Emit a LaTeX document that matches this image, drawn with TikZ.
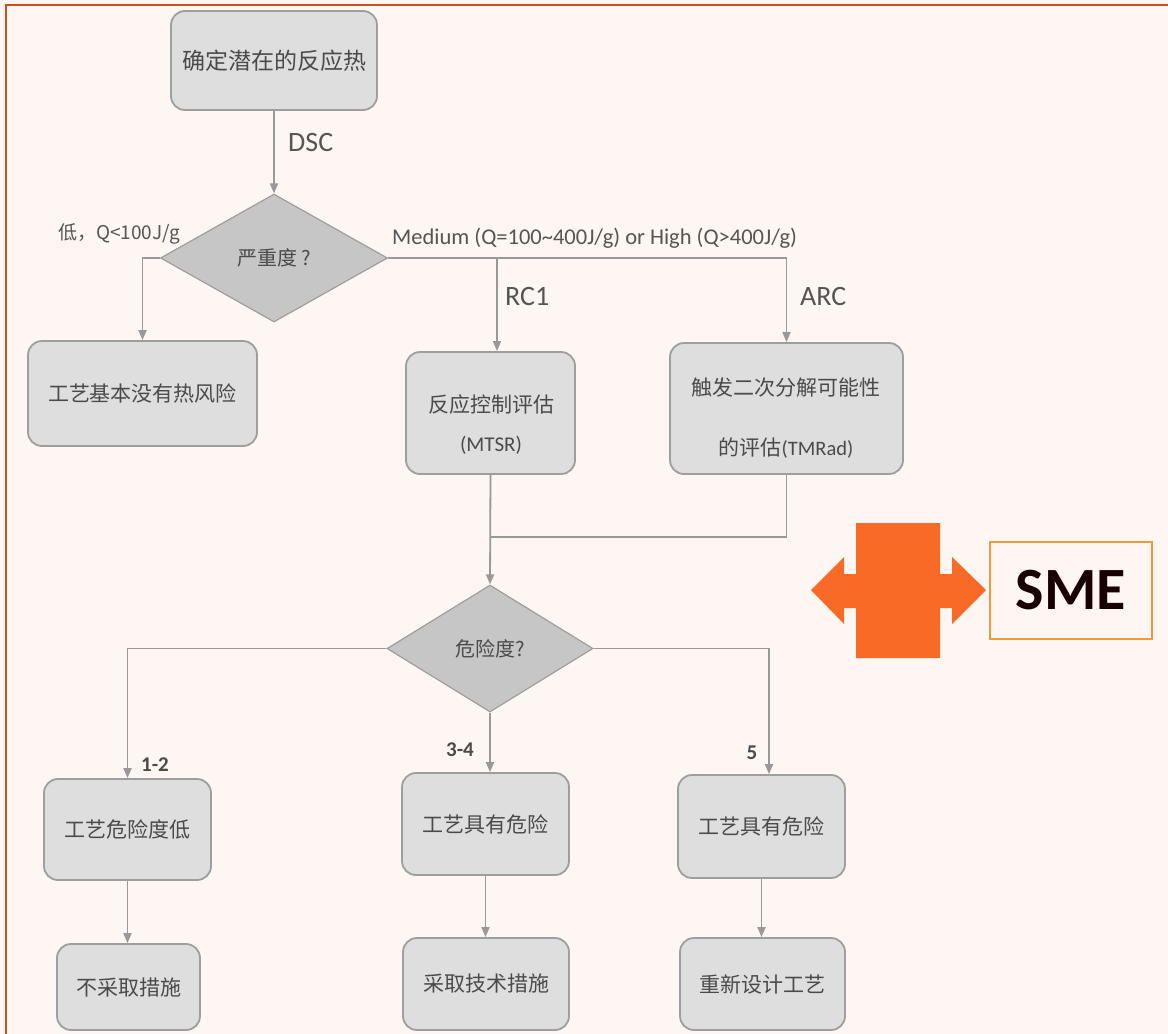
\documentclass[tikz,border=0pt]{standalone}
\usepackage{fontspec}
\setmainfont{Carlito}
\newfontfamily\cjk{Noto Sans CJK SC}
\usetikzlibrary{shapes.geometric,arrows.meta,calc}
\definecolor{bg}{HTML}{FDF6F3}
\definecolor{frame}{HTML}{C4531F}
\definecolor{boxfill}{HTML}{DEDEDE}
\definecolor{boxline}{HTML}{9E9E9E}
\definecolor{dfill}{HTML}{C6C6C6}
\definecolor{lc}{HTML}{999999}
\definecolor{txt}{HTML}{4A4A4A}
\definecolor{lbl}{HTML}{555555}
\definecolor{sme}{HTML}{F96A26}
\definecolor{smeline}{HTML}{EE9A3A}
\begin{document}
\begin{tikzpicture}[x=1pt,y=-1pt,
  box/.style={draw=boxline, fill=boxfill, rounded corners=14pt, line width=1.8pt, inner sep=0pt},
  cjkt/.style={text=txt, font=\cjk\fontsize{21}{26}\selectfont, align=center, inner sep=0pt},
  decision/.style={diamond, draw=boxline, fill=dfill, line width=1.2pt, inner sep=0pt, text=txt, font=\cjk\fontsize{20}{24}\selectfont},
  conn/.style={draw=lc, line width=1.8pt, -{Triangle[length=10pt,width=8pt]}},
  plain/.style={draw=lc, line width=1.8pt},
  lab/.style={text=lbl, inner sep=0pt},
  num/.style={text=txt, inner sep=0pt, font=\bfseries\fontsize{21}{24}\selectfont},
]
\useasboundingbox (0,0) rectangle (1168,1034);
\fill[bg] (0,0) rectangle (1168,1034);
\draw[frame, line width=2.8pt] (6,1034) -- (6,5) -- (1168,5);

% nodes
\node[box, cjkt, font=\cjk\fontsize{23}{26}\selectfont, minimum width=206pt, minimum height=99pt] (n1) at (274,60.5) {确定潜在的反应热};
\node[decision, minimum width=227pt, minimum height=128pt] (d1) at (274,258) {严重度 ?};
\node[box, cjkt, minimum width=229pt, minimum height=105pt] (n2) at (142.5,393.5) {工艺基本没有热风险};
\node[box, minimum width=169pt, minimum height=122pt] (n3) at (490.5,413) {};
\node[cjkt] (n3t) at (491,425) {反应控制评估\\[13pt]{\fontspec{Carlito}\fontsize{21}{24}\selectfont (MTSR)}};
\node[box, minimum width=233pt, minimum height=131pt] (n4) at (786.5,408.5) {};
\node[cjkt, font=\cjk\fontsize{21}{60}\selectfont] (n4t) at (786,418) {触发二次分解可能性\\的评估{\fontspec{Carlito}\fontsize{20.5}{22}\selectfont(TMRad)}};
\node[decision, minimum width=206pt, minimum height=127pt] (d2) at (490,648.5) {危险度?};
\node[box, cjkt, minimum width=167pt, minimum height=101pt] (n5) at (127.5,829.5) {工艺危险度低};
\node[box, cjkt, minimum width=167pt, minimum height=102pt] (n6) at (485.5,824) {工艺具有危险};
\node[box, cjkt, minimum width=167pt, minimum height=103pt] (n7) at (761.5,826.5) {工艺具有危险};
\node[box, cjkt, minimum width=143pt, minimum height=86pt] (n8) at (128.5,987) {不采取措施};
\node[box, cjkt, minimum width=166pt, minimum height=92pt] (n9) at (486,984) {采取技术措施};
\node[box, cjkt, minimum width=165pt, minimum height=92pt] (n10) at (762.5,984) {重新设计工艺};

% helper coordinates
\coordinate (b1) at (497,258);
\coordinate (m1) at (490,537);
\coordinate (b2) at (769,648.5);

% connectors
\draw[conn] (n1.south) -- (d1.north);
\draw[conn] (d1.west) -| (n2.north);
\draw[conn] (d1.east) -| (n4.north);
\draw[conn] (b1) -- (b1 |- n3.north);
\draw[plain] (n4.south) |- (m1);
\draw[conn] (n3.south) -- (d2.north);
\draw[conn] (d2.west) -| (n5.north);
\draw[conn] (d2.south) -- (d2.south |- n6.north);
\draw[conn] (d2.east) -| (b2 |- n7.north);
\draw[conn] (n5.south) -- (n5.south |- n8.north);
\draw[conn] (n6.south) -- (n6.south |- n9.north);
\draw[conn] (n7.south) -- (n7.south |- n10.north);

% labels
\node[lab, font=\fontsize{28}{30}\selectfont, anchor=west] (lDSC) at (288,143) {DSC};
\node[lab, font=\cjk\fontsize{19}{22}\selectfont, anchor=west] (lLow) at (58,234) {低，Q<100J/g};
\node[lab, font=\fontsize{22.5}{26}\selectfont, anchor=west] (lMed) at (392,238) {Medium (Q=100\textasciitilde400J/g) or High (Q>400J/g)};
\node[lab, font=\fontsize{28}{30}\selectfont, anchor=west] (lRC) at (505,297) {RC1};
\node[lab, font=\fontsize{28}{30}\selectfont, anchor=west] (lARC) at (800,297) {ARC};
\node[num] (l12) at (155,765) {1-2};
\node[num] (l34) at (460,750) {3-4};
\node[num] (l5) at (752,753) {5};

% SME double arrow
\fill[sme] (811,590) -- (844,557) -- (844,574) -- (856,574) -- (856,523) -- (940,523) -- (940,574)
  -- (952,574) -- (952,557) -- (986,590) -- (952,624) -- (952,608) -- (940,608) -- (940,658)
  -- (856,658) -- (856,608) -- (844,608) -- (844,624) -- cycle;
\node[draw=smeline, line width=1.5pt, minimum width=162pt, minimum height=97pt, inner sep=0pt,
  text={black!90!red}, font=\bfseries\fontsize{60}{60}\selectfont] (sme) at (1071,590.5) {SME};
\end{tikzpicture}
\end{document}
